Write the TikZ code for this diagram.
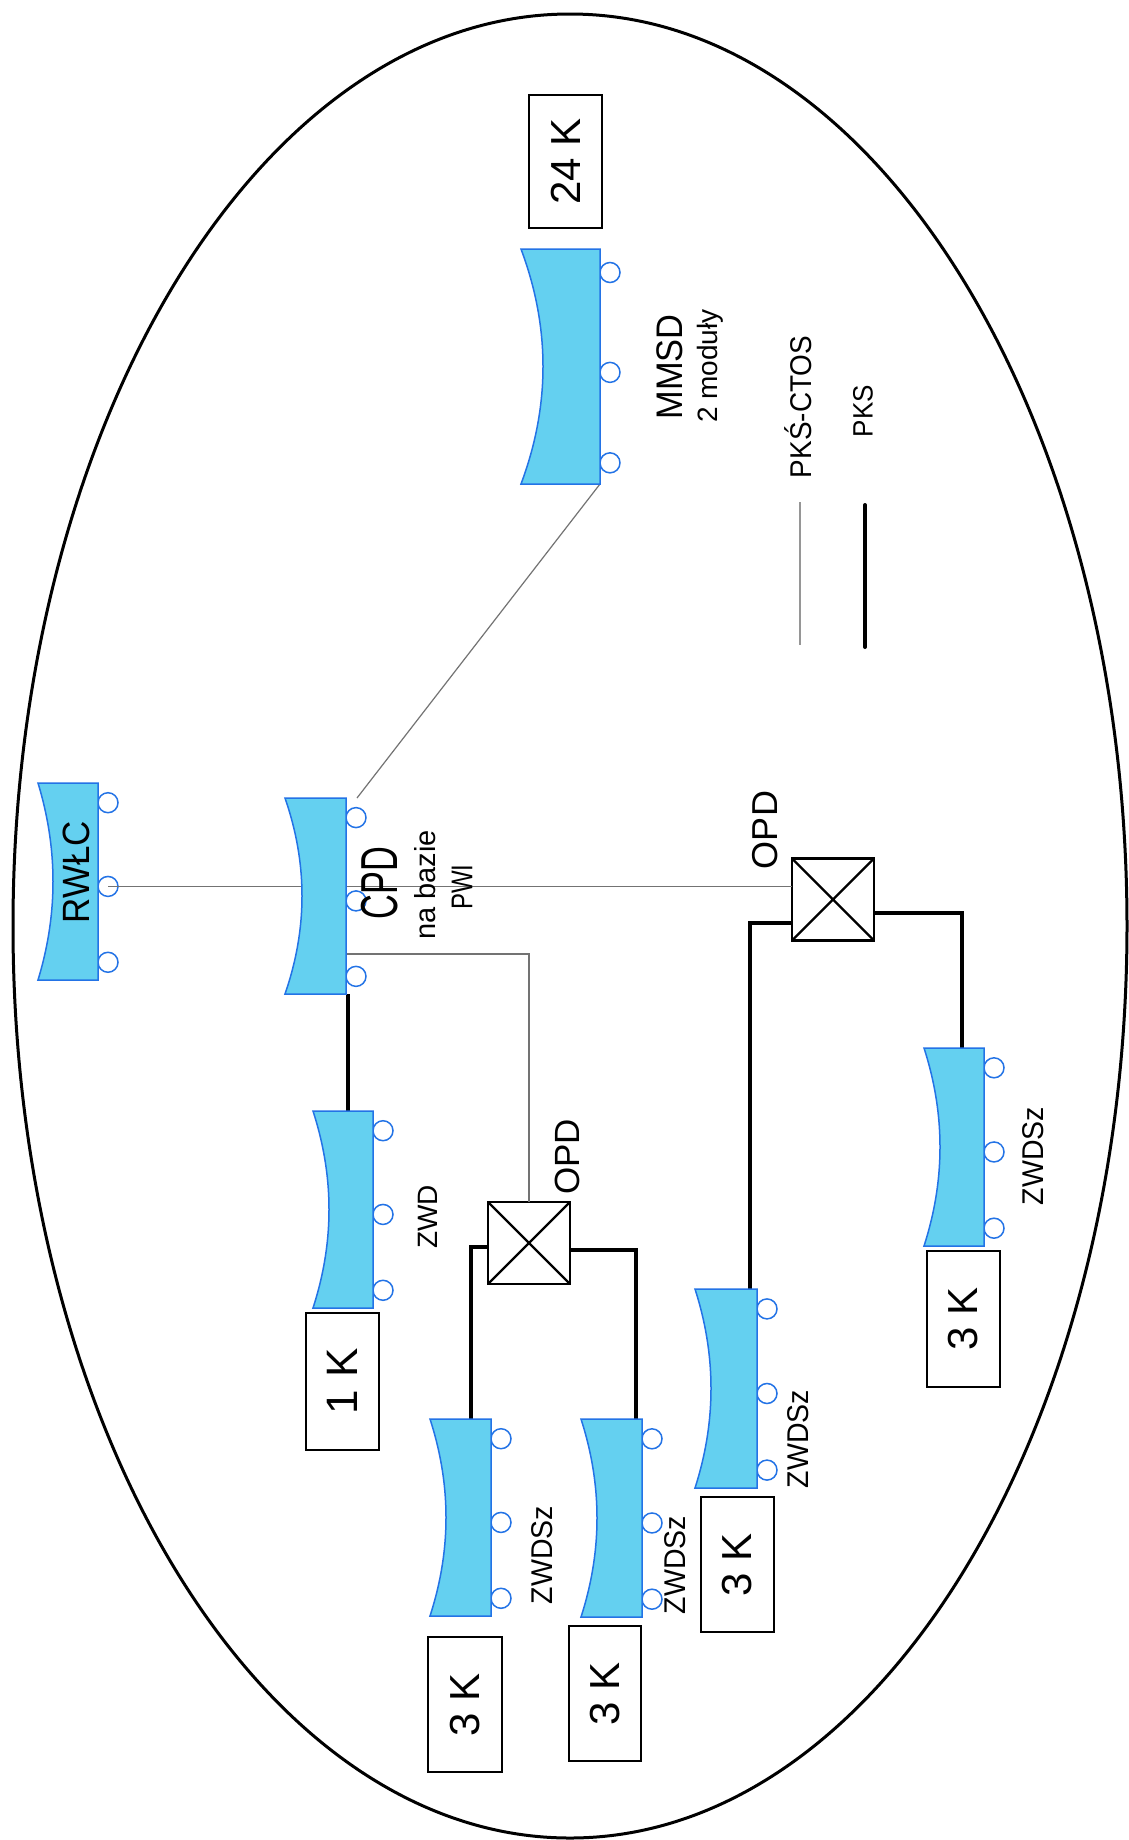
\documentclass[tikz,border=0pt]{standalone}
\usepackage{fontspec}
\setmainfont{Liberation Sans}
\usepackage{graphicx}
\usetikzlibrary{calc}
\definecolor{devfill}{RGB}{100,208,240}
\definecolor{devline}{RGB}{35,115,230}
\definecolor{thinc}{RGB}{115,115,115}
\definecolor{legc}{RGB}{150,150,150}
\tikzset{
  body/.style={rectangle, inner sep=0pt, outer sep=0pt},
  port/.style={circle, draw=devline, line width=1.5pt, minimum size=20pt, inner sep=0pt, outer sep=0pt},
  kbox/.style={rectangle, draw, line width=2.7pt, inner sep=0pt, rotate=90, font=\fontsize{42pt}{46pt}\selectfont},
  opdbox/.style={rectangle, draw, line width=2.7pt, minimum size=82pt, inner sep=0pt, outer sep=0pt},
  lbl/.style={rotate=90, inner sep=0pt},
  pks/.style={line width=4pt},
  ctos/.style={line width=1.2pt, draw=thinc},
}
\newcommand\mkports[1]{%
  \node[port] (#1-p1) at ($(#1.north east)!0.10!(#1.south east)+(10,0)$) {};
  \node[port] (#1-p2) at ($(#1.north east)!0.525!(#1.south east)+(10,0)$) {};
  \node[port] (#1-p3) at ($(#1.north east)!0.91!(#1.south east)+(10,0)$) {};
}
% #1 name, #2 = twice the depth of the concave left side
\newcommand\devbody[2]{%
  \coordinate (#1-q) at ($(#1.west)+(#2,0)$);
  \filldraw[fill=devfill, draw=devline, line width=1.5pt, line join=miter]
   (#1.north west) -- (#1.north east) -- (#1.south east) -- (#1.south west)
   .. controls ($(#1.south west)!0.6667!(#1-q)$) and ($(#1.north west)!0.6667!(#1-q)$) .. (#1.north west) -- cycle;
}
\newcommand\opdcross[1]{%
  \draw[line width=2.2pt] (#1.north west) -- (#1.south east) (#1.north east) -- (#1.south west);
}
\begin{document}
\begin{tikzpicture}[x=1pt,y=-1pt]
\useasboundingbox (0,0) rectangle (1128,1840);
\fill[white] (0,0) rectangle (1128,1840);
\draw[line width=3pt] (570,926) ellipse [x radius=557, y radius=912];

% device bodies
\node[body, minimum width=60pt, minimum height=197pt] (rwlc) at (68,881.5) {};
\node[body, minimum width=61pt, minimum height=196pt] (cpd) at (315.5,896) {};
\node[body, minimum width=79pt, minimum height=235pt] (mmsd) at (560.5,366.5) {};
\node[body, minimum width=60pt, minimum height=197pt] (zwd) at (343,1209.5) {};
\node[body, minimum width=61pt, minimum height=197pt] (zwdsz1) at (460.5,1517.5) {};
\node[body, minimum width=61pt, minimum height=198pt] (zwdsz2) at (611.5,1518) {};
\node[body, minimum width=62pt, minimum height=199pt] (zwdsz3) at (726,1388.5) {};
\node[body, minimum width=60pt, minimum height=198pt] (zwdsz4) at (954,1147) {};

\mkports{rwlc}
\mkports{cpd}
\mkports{mmsd}
\mkports{zwd}
\mkports{zwdsz1}
\mkports{zwdsz2}
\mkports{zwdsz3}
\mkports{zwdsz4}

% OPD boxes
\node[opdbox] (opd1) at (529,1243) {};
\node[opdbox] (opd2) at (833,899.5) {};
\opdcross{opd1}
\opdcross{opd2}

% K boxes
\node[kbox, minimum width=133pt, minimum height=73pt] (k24) at (565.5,161.5) {24 K};
\node[kbox, minimum width=137pt, minimum height=73pt, font=\fontsize{44pt}{48pt}\selectfont] (k1) at (342.5,1381.5) {1 K};
\node[kbox, minimum width=135pt, minimum height=74pt] (k3a) at (465,1704.5) {3 K};
\node[kbox, minimum width=135pt, minimum height=72pt] (k3b) at (605,1693.5) {3 K};
\node[kbox, minimum width=135pt, minimum height=73pt] (k3c) at (737.5,1564.5) {3 K};
\node[kbox, minimum width=136pt, minimum height=73pt] (k3d) at (963.5,1319) {3 K};

% thin connectors (PKS-CTOS)
\draw[ctos] (rwlc-p2.center) -- (rwlc-p2.center -| opd2.west);
\coordinate (cpdtop) at ($(cpd.north east)+(11,0)$);
\draw[ctos] (cpdtop) -- (mmsd.south east);
\coordinate (cpdlow) at ($(cpd.north east)!0.796!(cpd.south east)$);
\draw[ctos] (cpdlow) -| (opd1.north);

% thick connectors (PKS)
\coordinate (cpdout) at ($(cpd.south east)+(2,0)$);
\draw[pks] (cpdout) -- (cpdout |- zwd.north);
\coordinate (o1l) at ($(opd1.west)+(0,4)$);
\coordinate (z1in) at ($(zwdsz1.north)+(10,0)$);
\draw[pks] (o1l) -| (z1in);
\coordinate (o1r) at ($(opd1.east)+(0,7)$);
\coordinate (z2in) at ($(zwdsz2.north)+(24,0)$);
\draw[pks] (o1r) -| (z2in);
\coordinate (o2l) at ($(opd2.west)+(0,23)$);
\coordinate (z3in) at ($(zwdsz3.north)+(24,0)$);
\draw[pks] (o2l) -| (z3in);
\coordinate (o2r) at ($(opd2.east)+(0,13)$);
\coordinate (z4in) at ($(zwdsz4.north)+(8,0)$);
\draw[pks] (o2r) -| (z4in);

% device shapes
\devbody{rwlc}{30}
\devbody{cpd}{34}
\devbody{mmsd}{44}
\devbody{zwd}{32}
\devbody{zwdsz1}{32}
\devbody{zwdsz2}{32}
\devbody{zwdsz3}{32}
\devbody{zwdsz4}{32}

% legend
\coordinate (lg1a) at (800,502);
\coordinate (lg1b) at (800,645);
\draw[line width=1.3pt, draw=legc] (lg1a) -- (lg1b);
\coordinate (lg2a) at (865,505);
\coordinate (lg2b) at (865,647);
\draw[pks, line cap=round] (lg2a) -- (lg2b);
\node[lbl, font=\fontsize{30pt}{34pt}\selectfont] (t-ctos) at (798,407) {\scalebox{0.93}[1]{PKŚ-CTOS}};
\node[lbl, font=\fontsize{28pt}{32pt}\selectfont] (t-pks) at (863,411) {\scalebox{0.93}[1]{PKS}};

% labels
\node[lbl, font=\fontsize{38pt}{42pt}\selectfont] (t-rwlc) at (76,872) {\scalebox{0.92}[1]{RWŁC}};
\node[lbl, font=\fontsize{52pt}{56pt}\selectfont] (t-cpd) at (380,883) {\scalebox{0.66}[1]{CPD}};
\node[lbl, font=\fontsize{29pt}{32pt}\selectfont] (t-baz) at (425,885) {na bazie};
\node[lbl, font=\fontsize{30pt}{34pt}\selectfont] (t-pwi) at (462,887) {\scalebox{0.8}[1]{PWI}};
\node[lbl, font=\fontsize{37pt}{40pt}\selectfont] (t-mmsd) at (670,367) {\scalebox{0.93}[1]{MMSD}};
\node[lbl, font=\fontsize{28pt}{32pt}\selectfont] (t-mod) at (710,366) {2 moduły};
\node[lbl, font=\fontsize{28pt}{32pt}\selectfont] (t-zwd) at (428,1217) {ZWD};
\node[lbl, font=\fontsize{35pt}{38pt}\selectfont] (t-opd1) at (567,1157) {OPD};
\node[lbl, font=\fontsize{36pt}{40pt}\selectfont] (t-opd2) at (765,830) {OPD};
\node[lbl, font=\fontsize{30pt}{34pt}\selectfont] (t-z1) at (542,1555) {\scalebox{0.95}[1]{ZWDSz}};
\node[lbl, font=\fontsize{30pt}{34pt}\selectfont] (t-z2) at (675,1565) {\scalebox{0.95}[1]{ZWDSz}};
\node[lbl, font=\fontsize{30pt}{34pt}\selectfont] (t-z3) at (798,1439) {\scalebox{0.95}[1]{ZWDSz}};
\node[lbl, font=\fontsize{30pt}{34pt}\selectfont] (t-z4) at (1033,1156) {\scalebox{0.95}[1]{ZWDSz}};
\end{tikzpicture}
\end{document}
